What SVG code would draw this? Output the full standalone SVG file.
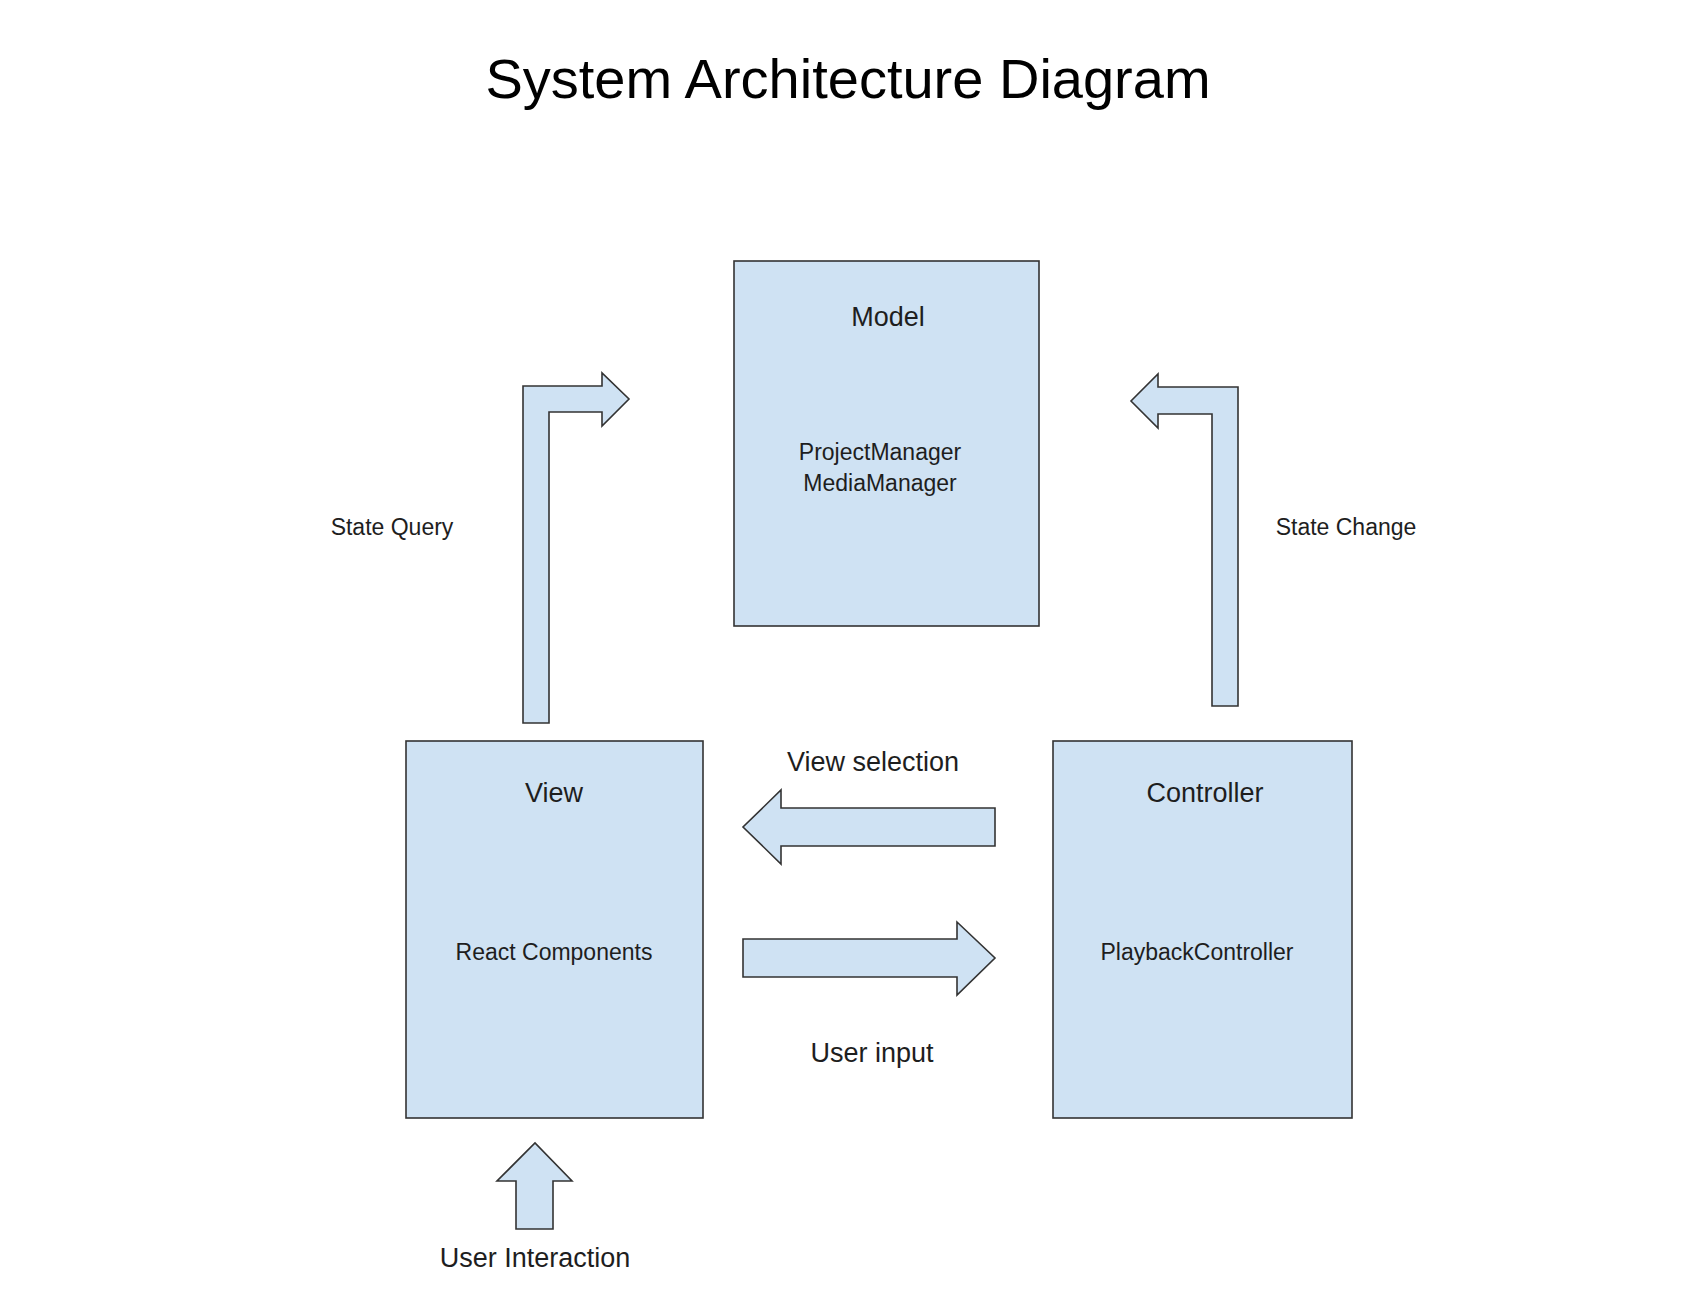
<svg xmlns="http://www.w3.org/2000/svg" width="1700" height="1308" viewBox="0 0 1700 1308">
<style>
.box{fill:#cfe2f3;stroke:#333;stroke-width:1.6}
.arr{fill:#cfe2f3;stroke:#333;stroke-width:1.6;stroke-linejoin:miter}
text{font-family:"Liberation Sans",Arial,sans-serif;fill:#1e1e1e}
.t{font-size:27px;text-anchor:middle}
.s{font-size:23px;text-anchor:middle}
.title{font-size:56px;text-anchor:middle;fill:#000}
</style>
<rect width="1700" height="1308" fill="#fff"/>
<text class="title" x="848" y="98">System Architecture Diagram</text>
<g id="model">
<rect class="box" x="734" y="261" width="305" height="365"/>
<text class="t" x="888" y="326">Model</text>
<text class="s" x="880" y="460">ProjectManager</text>
<text class="s" x="880" y="491">MediaManager</text>
</g>
<g id="view">
<rect class="box" x="406" y="741" width="297" height="377"/>
<text class="t" x="554" y="802">View</text>
<text class="s" x="554" y="960">React Components</text>
</g>
<g id="controller">
<rect class="box" x="1053" y="741" width="299" height="377"/>
<text class="t" x="1205" y="802">Controller</text>
<text class="s" x="1197" y="960">PlaybackController</text>
</g>
<g id="connectors">
<path id="state-query" class="arr" d="M523,723 V386 H602 V373 L629,399 L602,426 V412 H549 V723 Z"/>
<path id="state-change" class="arr" d="M1238,706 V387 H1158 V374 L1131,401 L1158,428 V414 H1212 V706 Z"/>
<path id="view-selection" class="arr" d="M995,808 H781 V790 L743,827 L781,864 V846 H995 Z"/>
<path id="user-input" class="arr" d="M743,939 H957 V922 L995,958 L957,995 V977 H743 Z"/>
<path id="user-interaction" class="arr" d="M516,1229 V1181 H497 L535,1143 L572,1181 H553 V1229 Z"/>
<text class="s" x="392" y="535">State Query</text>
<text class="s" x="1346" y="535">State Change</text>
<text class="t" x="873" y="771">View selection</text>
<text class="t" x="872" y="1062">User input</text>
<text class="t" x="535" y="1267">User Interaction</text>
</g>
</svg>
